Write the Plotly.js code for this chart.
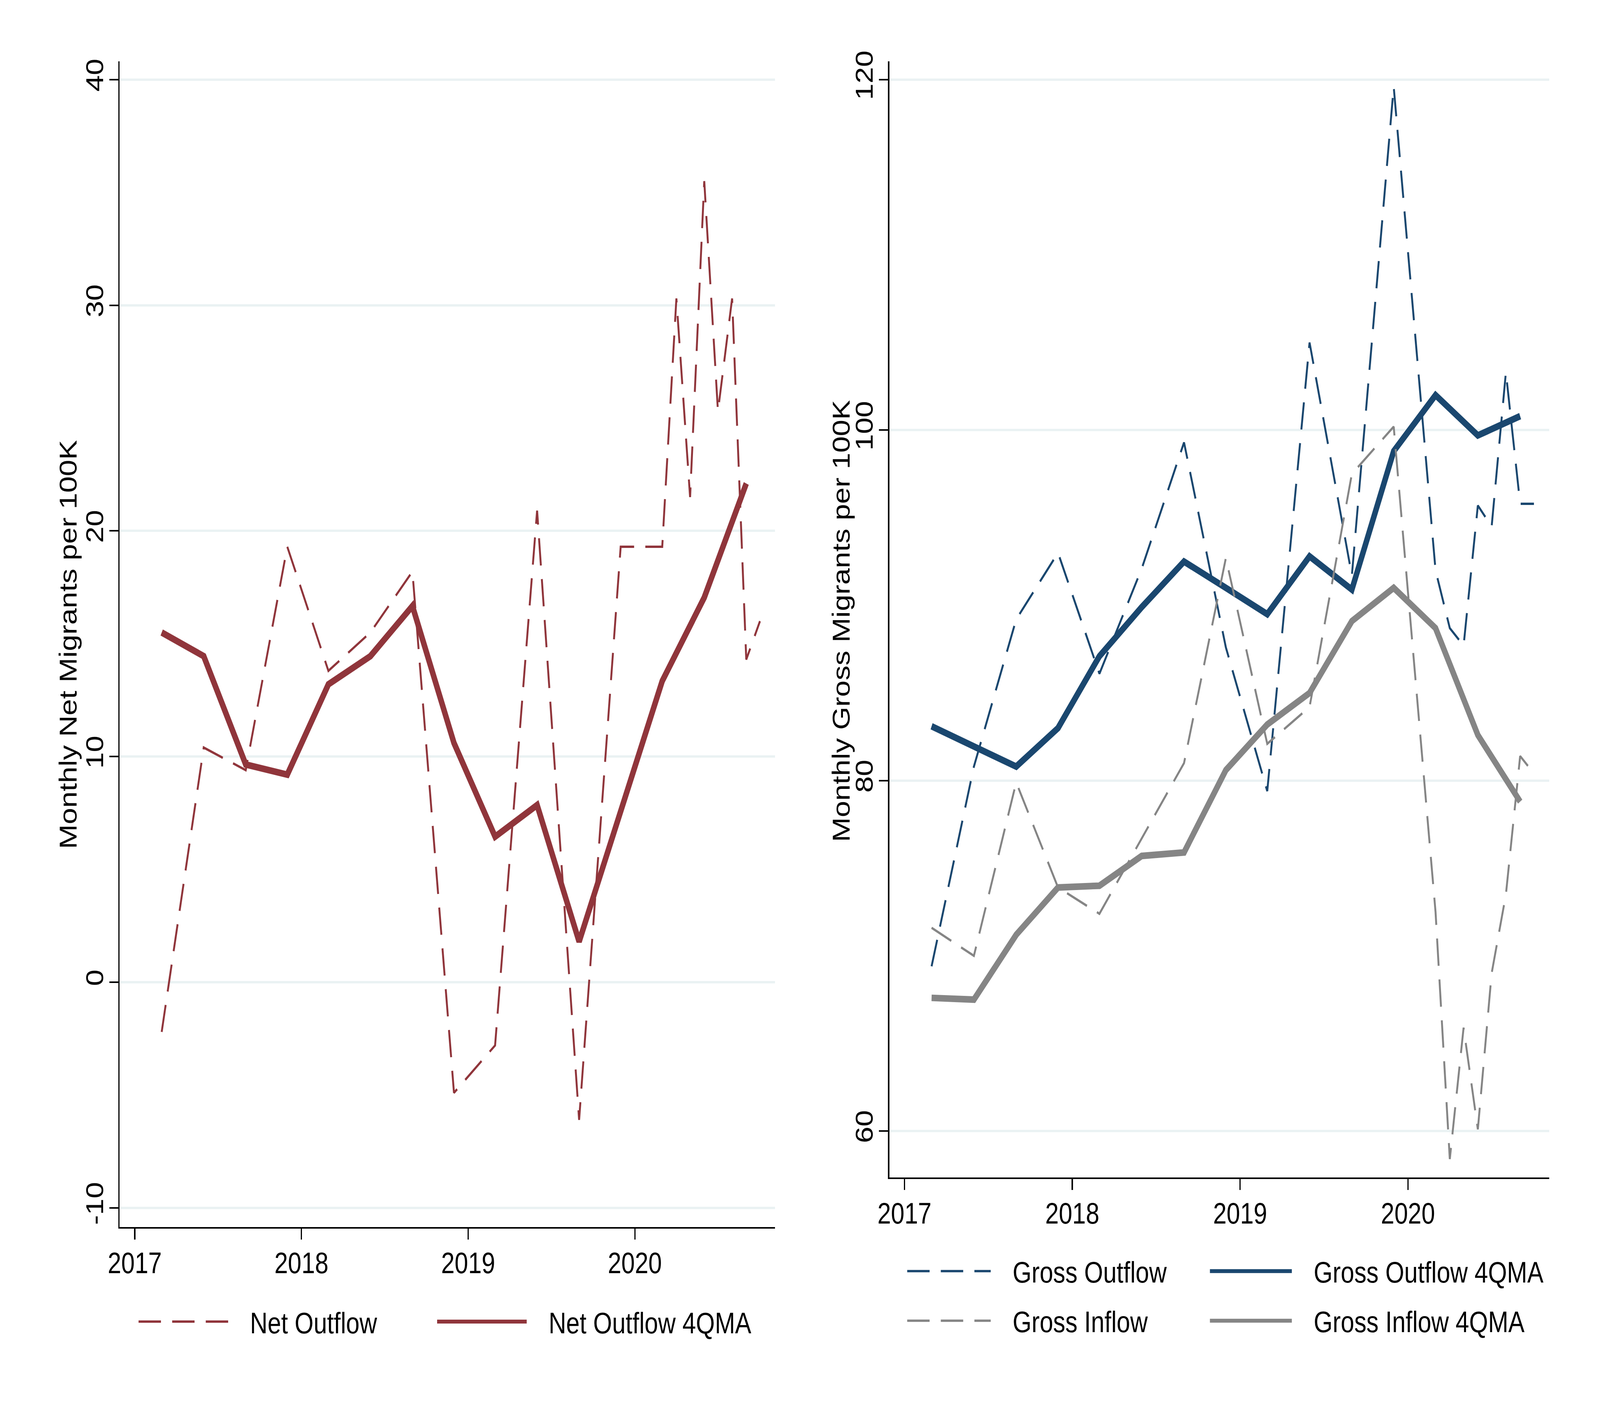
<html><head>
    <meta charset="utf8"/>
    <title>Net and gross migrants</title>
    <style>
        * {
            margin: 0px;
            padding: 0px
        }
        html, body {
            overflow: hidden;
            background: #fff
        }
        #wrap {
            position: absolute;
            left: 0px;
            top: 0px;
            width: 5000px;
            height: 3636px;
            transform-origin: 0 0
        }
    </style>
    <script src="https://cdn.plot.ly/plotly-3.0.1.min.js"></script>
</head><body>
    <div id="wrap"><div id="chart"></div></div>
    <script>
    // quarter-end months, then monthly from 2020m3 for the raw series
    var qMonths = ['2017-03', '2017-06', '2017-09', '2017-12', '2018-03', '2018-06', '2018-09', '2018-12',
        '2019-03', '2019-06', '2019-09', '2019-12', '2020-03', '2020-06', '2020-09'];
    var rawMonths = ['2017-03', '2017-06', '2017-09', '2017-12', '2018-03', '2018-06', '2018-09', '2018-12',
        '2019-03', '2019-06', '2019-09', '2019-12', '2020-03', '2020-04', '2020-05', '2020-06',
        '2020-07', '2020-08', '2020-09', '2020-10'];

    var netOutflow = [-2.2, 10.4, 9.4, 19.3, 13.8, 15.5, 18.2, -4.9, -2.8, 20.9, -6.1, 19.3,
        19.3, 30.3, 21.5, 35.5, 25.3, 30.3, 14.3, 16.0];
    var netOutflow4q = [15.5, 14.45, 9.65, 9.2, 13.2, 14.45, 16.67, 10.6, 6.45, 7.85, 1.8, 7.6,
        13.35, 17.05, 22.1];

    var grossOutflow = [69.4, 80.8, 89.2, 93.0, 86.1, 92.1, 99.3, 87.6, 79.4, 105.0, 91.7, 119.6,
        92.0, 88.7, 87.7, 95.7, 94.5, 103.3, 95.8, 95.8];
    var grossOutflow4q = [83.1, 81.9, 80.8, 83.0, 87.1, 89.9, 92.5, 91.0, 89.5, 92.8, 90.9, 98.8,
        102.0, 99.7, 100.8];
    var grossInflow = [71.6, 70.0, 79.9, 73.9, 72.4, 76.7, 81.0, 92.7, 82.1, 84.2, 97.5, 100.2,
        72.5, 58.4, 65.9, 60.1, 69.0, 73.5, 81.4, 80.4];
    var grossInflow4q = [67.6, 67.5, 71.2, 73.9, 74.0, 75.7, 75.9, 80.6, 83.2, 85.0, 89.1, 91.0,
        88.7, 82.6, 78.8];

    var yearTicks = ['2017-01-01', '2018-01-01', '2019-01-01', '2020-01-01'];
    var yearLabels = ['2017', '2018', '2019', '2020'];
    var netTicks = [-10, 0, 10, 20, 30, 40];
    var netLabels = ['-10', '0', '10', '20', '30', '40'];
    var grossTicks = [60, 80, 100, 120];
    var grossLabels = ['60', '80', '100', '120'];

    var cranberry = '#90353B';
    var navy = '#1A476F';
    var grey = '#858585';
    var pad = '\u00a0\u00a0\u00a0';

    var traces = [
        {x: rawMonths, y: netOutflow, name: pad + 'Net Outflow', legend: 'legend',
            line: {color: cranberry, width: 6, dash: '70px,35px'}},
        {x: qMonths, y: netOutflow4q, name: pad + 'Net Outflow 4QMA', legend: 'legend2',
            line: {color: cranberry, width: 17}},
        {x: rawMonths, y: grossOutflow, name: pad + 'Gross Outflow', legend: 'legend3',
            xaxis: 'x2', yaxis: 'y2', line: {color: navy, width: 6, dash: '70px,35px'}},
        {x: qMonths, y: grossOutflow4q, name: pad + 'Gross Outflow 4QMA', legend: 'legend4',
            xaxis: 'x2', yaxis: 'y2', line: {color: navy, width: 17}},
        {x: rawMonths, y: grossInflow, name: pad + 'Gross Inflow', legend: 'legend5',
            xaxis: 'x2', yaxis: 'y2', line: {color: grey, width: 6, dash: '70px,35px'}},
        {x: qMonths, y: grossInflow4q, name: pad + 'Gross Inflow 4QMA', legend: 'legend6',
            xaxis: 'x2', yaxis: 'y2', line: {color: grey, width: 17}}
    ];
    traces.forEach(function(t){
        t.type = 'scatter';
        t.mode = 'lines';
        t.hoverinfo = 'skip';
    });

    function xAxis(domain, anchor){
        return {
            type: 'date', domain: domain, anchor: anchor,
            range: ['2016-11-29', '2020-11-03'],
            tickmode: 'array', tickvals: yearTicks, ticktext: yearLabels,
            showgrid: false, zeroline: false,
            showline: true, linecolor: '#000', linewidth: 4,
            ticks: 'outside', ticklen: 28, tickwidth: 4, tickcolor: '#000',
            ticklabelstandoff: -5,
            automargin: false
        };
    }
    function yAxis(domain, anchor, range, vals, labels){
        return {
            domain: domain, anchor: anchor, range: range,
            tickmode: 'array', tickvals: vals, ticktext: labels,
            showgrid: true, gridcolor: '#EAF2F3', gridwidth: 6, zeroline: false,
            showline: true, linecolor: '#000', linewidth: 4,
            ticks: 'outside', ticklen: 28, tickwidth: 4, tickcolor: '#000',
            tickangle: -90, ticklabelstandoff: -11,
            automargin: false
        };
    }
    function legendAt(x, y, w){
        return {
            x: x, y: y, xanchor: 'left', yanchor: 'middle', xref: 'paper', yref: 'paper',
            itemwidth: w, bgcolor: 'rgba(0,0,0,0)', borderwidth: 0,
            font: {size: 76, color: '#000'}
        };
    }
    function yTitle(text, x, y){
        return {
            text: text, xref: 'paper', yref: 'paper', x: x, y: y,
            xanchor: 'center', yanchor: 'middle', textangle: -90,
            showarrow: false, font: {size: 76, color: '#000'}
        };
    }

    var layout = {
        width: 5000, height: 3636,
        margin: {l: 0, r: 0, t: 0, b: 0},
        paper_bgcolor: '#fff', plot_bgcolor: '#fff',
        font: {family: 'Liberation Sans, Arial, sans-serif', size: 76, color: '#000'},
        xaxis: xAxis([0.0748, 0.4844], 'y'),
        yaxis: yAxis([0.13586, 0.95682], 'x', [-10.85, 40.81], netTicks, netLabels),
        xaxis2: xAxis([0.5558, 0.9682], 'y2'),
        yaxis2: yAxis([0.17079, 0.95682], 'x2', [57.35, 121.05], grossTicks, grossLabels),
        annotations: [
            yTitle('Monthly Net Migrants per 100K', 0.0424, 0.5462),
            yTitle('Monthly Gross Migrants per 100K', 0.5256, 0.5627)
        ],
        legend: legendAt(0.0856, 0.0693, 280),
        legend2: legendAt(0.2722, 0.0693, 280),
        legend3: legendAt(0.5660, 0.1048, 261),
        legend4: legendAt(0.7552, 0.1048, 256),
        legend5: legendAt(0.5660, 0.0699, 261),
        legend6: legendAt(0.7552, 0.0699, 256),
        showlegend: true
    };

    // the window can be smaller than the 5000x3636 design, so fit the drawing to it
    var sx = Math.min(1, window.innerWidth / 5000);
    var sy = Math.min(1, window.innerHeight / 3636);
    document.getElementById('wrap').style.transform = 'scale(' + sx + ',' + sy + ')';

    Plotly.newPlot('chart', traces, layout, {staticPlot: true, displayModeBar: false});
    </script>
</body></html>
